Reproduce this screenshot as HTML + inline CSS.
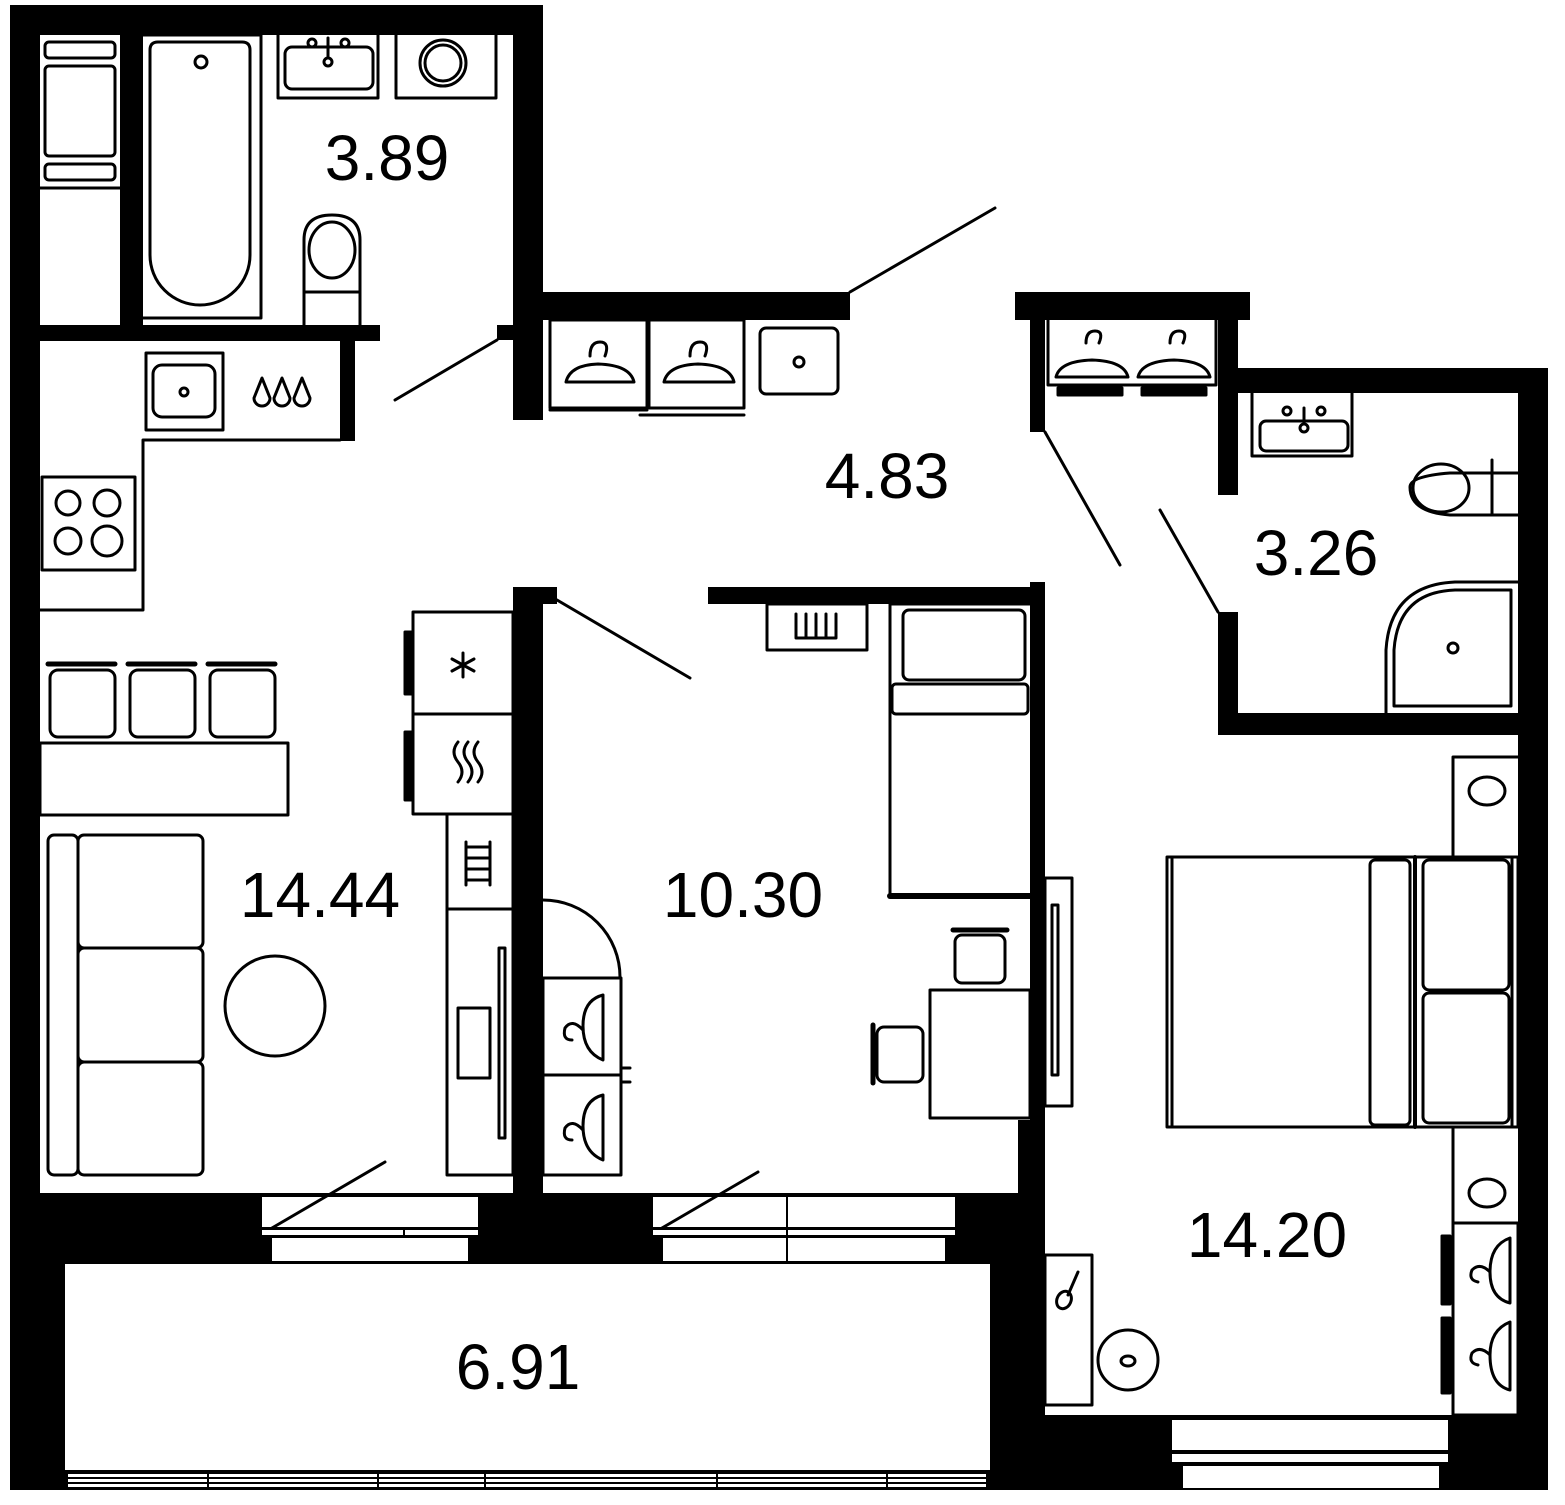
<!DOCTYPE html>
<html><head><meta charset="utf-8"><style>
html,body{margin:0;padding:0;background:#fff;}
svg{display:block}
text{font-family:"Liberation Sans",sans-serif;font-size:64px;fill:#000;text-anchor:middle}
</style></head><body>
<svg width="1565" height="1505" viewBox="0 0 1565 1505" xmlns="http://www.w3.org/2000/svg">
<g fill="#000">
<!-- bottom black block -->
<rect x="10" y="1193" width="1035" height="297"/>
<rect x="1045" y="1415" width="503" height="75"/>
<rect x="10" y="5" width="30" height="1485"/>
<rect x="10" y="5" width="533" height="30"/>
<rect x="513" y="5" width="30" height="415"/>
<rect x="497" y="325" width="16" height="15"/>
<rect x="120" y="35" width="23" height="290"/>
<rect x="40" y="325" width="340" height="16"/>
<rect x="340" y="341" width="15" height="100"/>
<rect x="543" y="292" width="307" height="28"/>
<rect x="1015" y="292" width="235" height="28"/>
<rect x="1030" y="320" width="15" height="112"/>
<rect x="1218" y="292" width="20" height="203"/>
<rect x="1238" y="368" width="310" height="25"/>
<rect x="1518" y="368" width="30" height="1122"/>
<rect x="1218" y="612" width="20" height="123"/>
<rect x="1218" y="713" width="300" height="22"/>
<rect x="708" y="587" width="337" height="17"/>
<rect x="1030" y="582" width="15" height="540"/>
<rect x="1018" y="1120" width="27" height="300"/>
<rect x="513" y="587" width="30" height="608"/>
<rect x="543" y="587" width="14" height="17"/>
</g>
<g fill="#fff">
<!-- balcony -->
<rect x="65" y="1264" width="925" height="206"/>
<!-- bottom balcony windows -->
<rect x="68" y="1474" width="918" height="13"/>
<!-- living window -->
<rect x="262" y="1197" width="216" height="30"/>
<rect x="262" y="1230" width="216" height="5"/>
<rect x="272" y="1238" width="196" height="23"/>
<!-- 10.30 window -->
<rect x="653" y="1197" width="302" height="30"/>
<rect x="653" y="1230" width="302" height="5"/>
<rect x="663" y="1238" width="282" height="23"/>
<!-- 14.20 window -->
<rect x="1172" y="1420" width="276" height="30"/>
<rect x="1172" y="1454" width="276" height="8"/>
<rect x="1183" y="1466" width="256" height="22"/>
</g>
<g stroke="#000" stroke-width="2" fill="none">
<line x1="68" y1="1478" x2="986" y2="1478"/>
<line x1="68" y1="1483" x2="986" y2="1483"/>
<line x1="208" y1="1472" x2="208" y2="1488"/><line x1="378" y1="1472" x2="378" y2="1488"/>
<line x1="485" y1="1472" x2="485" y2="1488"/><line x1="717" y1="1472" x2="717" y2="1488"/>
<line x1="887" y1="1472" x2="887" y2="1488"/>
<line x1="787" y1="1197" x2="787" y2="1261"/>
<line x1="404" y1="1228" x2="404" y2="1238"/>
</g>
<g stroke="#000" stroke-width="3" fill="none" stroke-linecap="round" stroke-linejoin="round">
<!-- door lines -->
<line x1="497" y1="340" x2="395" y2="400"/>
<line x1="850" y1="292" x2="995" y2="208"/>
<line x1="557" y1="600" x2="690" y2="678"/>
<line x1="1045" y1="432" x2="1120" y2="565"/>
<line x1="1160" y1="510" x2="1218" y2="612"/>
<line x1="385" y1="1162" x2="272" y2="1228"/>
<line x1="758" y1="1172" x2="662" y2="1228"/>
<path d="M543 900 A77 77 0 0 1 620 977"/>
<!-- bathroom closet -->
<line x1="40" y1="188" x2="120" y2="188"/>
<rect x="45" y="42" width="70" height="16" rx="4"/>
<rect x="45" y="66" width="70" height="90" rx="4"/>
<rect x="45" y="164" width="70" height="16" rx="4"/>
<!-- tub -->
<polyline points="143,35 261,35 261,318 143,318"/>
<path d="M150 50 Q150 42 158 42 L242 42 Q250 42 250 50 L250 255 A50 50 0 0 1 150 255 Z"/>
<circle cx="201" cy="62" r="6"/>
<!-- sink -->
<polyline points="278,35 278,98 378,98 378,35"/>
<rect x="285" y="47" width="88" height="42" rx="7"/>
<circle cx="312" cy="43" r="4"/><circle cx="345" cy="43" r="4"/>
<line x1="328" y1="38" x2="328" y2="58"/><circle cx="328" cy="62" r="4"/>
<!-- washer -->
<polyline points="396,35 396,98 496,98 496,35"/>
<circle cx="443" cy="63" r="23"/><circle cx="443" cy="63" r="18"/>
<!-- toilet -->
<path d="M304 325 L304 240 Q304 215 332 215 Q360 215 360 240 L360 325"/>
<ellipse cx="332" cy="250" rx="23" ry="28"/>
<line x1="304" y1="292" x2="360" y2="292"/>
<!-- kitchen -->
<polyline points="340,440 143,440 143,610 40,610"/>
<rect x="146" y="353" width="77" height="77"/>
<rect x="153" y="365" width="62" height="52" rx="9"/>
<circle cx="184" cy="392" r="4"/>
<path d="M262 378 L254 398 A8 8 0 0 0 270 398 Z"/>
<path d="M282 378 L274 398 A8 8 0 0 0 290 398 Z"/>
<path d="M302 378 L294 398 A8 8 0 0 0 310 398 Z"/>
<rect x="42" y="477" width="93" height="93"/>
<circle cx="68" cy="503" r="12"/><circle cx="107" cy="503" r="13"/>
<circle cx="68" cy="541" r="13"/><circle cx="107" cy="541" r="15"/>
<!-- dining -->
<line x1="48" y1="664" x2="115" y2="664" stroke-width="5"/>
<line x1="128" y1="664" x2="195" y2="664" stroke-width="5"/>
<line x1="208" y1="664" x2="275" y2="664" stroke-width="5"/>
<rect x="50" y="670" width="65" height="67" rx="8"/>
<rect x="130" y="670" width="65" height="67" rx="8"/>
<rect x="210" y="670" width="65" height="67" rx="8"/>
<rect x="40" y="743" width="248" height="72"/>
<!-- sofa -->
<rect x="48" y="835" width="30" height="340" rx="6"/>
<rect x="78" y="835" width="125" height="113" rx="6"/>
<rect x="78" y="948" width="125" height="114" rx="6"/>
<rect x="78" y="1062" width="125" height="113" rx="6"/>
<circle cx="275" cy="1006" r="50"/>
<!-- appliances column -->
<rect x="413" y="612" width="100" height="102"/>
<rect x="413" y="714" width="100" height="100"/>
<rect x="405" y="632" width="8" height="62" fill="#000"/>
<rect x="405" y="732" width="8" height="68" fill="#000"/>
<path d="M463 653 L463 677 M452 659 L474 671 M452 671 L474 659"/>
<path d="M458 742 Q450 752 458 762 Q466 772 458 782 M468 742 Q460 752 468 762 Q476 772 468 782 M478 742 Q470 752 478 762 Q486 772 478 782"/>
<rect x="447" y="814" width="66" height="95"/>
<path d="M466 847 L490 847 M466 858 L490 858 M466 869 L490 869 M466 880 L490 880 M466 842 L466 885 M490 842 L490 885"/>
<rect x="447" y="909" width="66" height="266"/>
<rect x="458" y="1008" width="32" height="70"/>
<rect x="499" y="948" width="6" height="190"/>
<!-- 10.30 -->
<rect x="767" y="604" width="100" height="46"/>
<path d="M796 614 L796 638 M806 614 L806 638 M816 614 L816 638 M826 614 L826 638 M836 614 L836 638 M796 638 L836 638"/>
<polyline points="1030,604 890,604 890,896 1030,896"/>
<line x1="890" y1="896" x2="1030" y2="896" stroke-width="6"/>
<rect x="903" y="610" width="122" height="70" rx="6"/>
<rect x="892" y="684" width="136" height="30" rx="4"/>
<rect x="930" y="990" width="100" height="128"/>
<rect x="955" y="935" width="50" height="48" rx="7"/>
<line x1="953" y1="930" x2="1007" y2="930" stroke-width="5"/>
<rect x="877" y="1027" width="46" height="55" rx="7"/>
<line x1="873" y1="1025" x2="873" y2="1083" stroke-width="5"/>
<rect x="1045" y="878" width="27" height="228"/>
<rect x="1052" y="905" width="6" height="170"/>
<rect x="543" y="978" width="78" height="97"/>
<rect x="543" y="1075" width="78" height="100"/>
<path d="M603 995 Q583 1000 583 1026 Q583 1052 603 1060 Z"/>
<path d="M583 1030 Q572 1018 565 1028 Q562 1040 572 1040"/>
<path d="M603 1095 Q583 1100 583 1126 Q583 1152 603 1160 Z"/>
<path d="M583 1130 Q572 1118 565 1128 Q562 1140 572 1140"/>
<line x1="621" y1="1068" x2="630" y2="1068"/><line x1="621" y1="1082" x2="630" y2="1082"/>
<!-- hall wardrobes -->
<rect x="550" y="320" width="97" height="88"/>
<rect x="649" y="320" width="95" height="88"/>
<line x1="550" y1="410" x2="647" y2="410"/>
<line x1="640" y1="415" x2="744" y2="415"/>
<path d="M590 356 Q590 342 600 342 Q610 342 605 356 M566 382 Q570 365 598 364 Q630 365 634 382 Z"/>
<path d="M690 356 Q690 342 700 342 Q710 342 705 356 M664 382 Q668 365 698 364 Q730 365 734 382 Z"/>
<rect x="760" y="328" width="78" height="66" rx="6"/>
<circle cx="799" cy="362" r="5"/>
<!-- right wardrobe -->
<polyline points="1048,320 1048,385 1216,385 1216,320"/>
<rect x="1058" y="388" width="64" height="7" fill="#000"/>
<rect x="1142" y="388" width="64" height="7" fill="#000"/>
<path d="M1086 343 Q1086 331 1095 331 Q1104 331 1099 343 M1056 377 Q1060 361 1092 360 Q1124 361 1128 377 Z"/>
<path d="M1170 343 Q1170 331 1179 331 Q1188 331 1183 343 M1138 377 Q1142 361 1174 360 Q1206 361 1210 377 Z"/>
<!-- 3.26 -->
<polyline points="1252,393 1252,456 1352,456 1352,393"/>
<rect x="1260" y="421" width="88" height="30" rx="6"/>
<circle cx="1287" cy="411" r="4"/><circle cx="1321" cy="411" r="4"/>
<line x1="1304" y1="408" x2="1304" y2="424"/><circle cx="1304" cy="428" r="4"/>
<path d="M1518 473 L1450 473 Q1410 476 1410 487 Q1410 512 1450 515 L1518 515"/>
<ellipse cx="1441" cy="488" rx="28" ry="24"/>
<line x1="1492" y1="460" x2="1492" y2="515"/>
<path d="M1386 713 L1386 650 Q1390 585 1455 582 L1518 582"/>
<path d="M1394 706 L1394 650 Q1398 592 1455 590 L1511 590 L1511 706 Z"/>
<circle cx="1453" cy="648" r="5"/>
<!-- 14.20 -->
<polyline points="1518,757 1453,757 1453,857"/>
<ellipse cx="1487" cy="791" rx="18" ry="14"/>
<rect x="1167" y="857" width="351" height="270"/>
<line x1="1172" y1="857" x2="1172" y2="1127"/>
<rect x="1370" y="860" width="40" height="265" rx="5"/>
<line x1="1415" y1="857" x2="1415" y2="1127" stroke-width="4"/>
<rect x="1423" y="860" width="86" height="130" rx="6"/>
<rect x="1423" y="993" width="86" height="130" rx="6"/>
<line x1="1512" y1="857" x2="1512" y2="1127"/>
<polyline points="1453,1127 1453,1223"/>
<ellipse cx="1487" cy="1193" rx="18" ry="14"/>
<rect x="1453" y="1223" width="65" height="192"/>
<rect x="1442" y="1236" width="8" height="68" fill="#000"/>
<rect x="1442" y="1318" width="8" height="75" fill="#000"/>
<path d="M1510 1238 Q1490 1245 1490 1272 Q1490 1298 1510 1303 Z"/>
<path d="M1490 1272 Q1480 1262 1472 1270 Q1468 1280 1478 1282"/>
<path d="M1510 1322 Q1490 1330 1490 1355 Q1490 1385 1510 1390 Z"/>
<path d="M1490 1355 Q1480 1345 1472 1353 Q1468 1363 1478 1365"/>
<rect x="1045" y="1255" width="47" height="150"/>
<path d="M1078 1272 L1068 1295"/>
<ellipse cx="1064" cy="1300" rx="7" ry="9" transform="rotate(25 1064 1300)"/>
<circle cx="1128" cy="1360" r="30"/>
<ellipse cx="1128" cy="1361" rx="7" ry="5"/>
</g>
<text x="387" y="180">3.89</text>
<text x="887" y="498">4.83</text>
<text x="1316" y="575">3.26</text>
<text x="320" y="917">14.44</text>
<text x="743" y="917">10.30</text>
<text x="1267" y="1257">14.20</text>
<text x="518" y="1389">6.91</text>
</svg>
</body></html>
